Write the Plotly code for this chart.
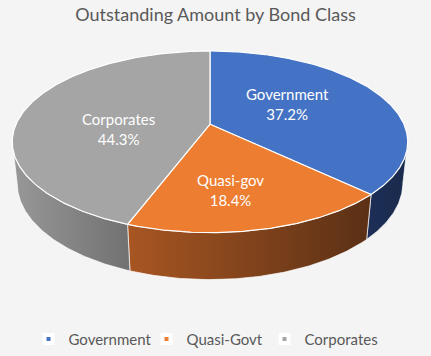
import numpy as np
import plotly.graph_objects as go

# ---- data ----
categories = ["Government", "Quasi-Govt", "Corporates"]
slice_labels = ["Government", "Quasi-gov", "Corporates"]
values = [37.2, 18.4, 44.3]

# ---- style ----
top_colors = ["#4472C4", "#ED7D31", "#A5A5A5"]
wall_colors = [("#1D2F57", "#1A2A4C"), ("#A85622", "#5A3015"), ("#989898", "#717171")]
label_pos = [(287, 105), (230, 193), (118, 131)]  # pixel anchors for data labels
W, H = 431, 356

# ---- projection of a tilted cylinder (perspective) ----
CX, CY = 210.0, 126.0
S = 194.0
ALPHA = np.radians(27.2)
D = 4.6
DEPTH = 0.245
SD = S * D


def proj(theta, r=1.0, z=0.0):
    x = r * np.sin(theta)
    y = r * np.cos(theta)
    v = y * np.sin(ALPHA) + z * np.cos(ALPHA)
    w = y * np.cos(ALPHA) - z * np.sin(ALPHA)
    return CX + SD * x / (D + w), CY - SD * v / (D + w)


total = sum(values)
fr = np.array(values) / total
starts = np.concatenate([[0], np.cumsum(fr)[:-1]]) * 2 * np.pi
ends = np.cumsum(fr) * 2 * np.pi

fig = go.Figure()

# front-facing range of the side wall
th_lo = np.arccos(-0.19)   # ~101 deg
th_hi = 2 * np.pi - th_lo

# walls
for i in range(len(values)):
    a = max(starts[i], th_lo)
    b = min(ends[i], th_hi)
    if b <= a:
        continue
    t = np.linspace(a, b, 120)
    xt, yt = proj(t, 1.0, 0.0)
    xb, yb = proj(t[::-1], 1.0, -DEPTH)
    xs = np.concatenate([xt, xb, xt[:1]])
    ys = np.concatenate([yt, yb, yt[:1]])
    c1, c2 = wall_colors[i]
    fig.add_trace(go.Scatter(
        x=xs, y=ys, mode="lines", fill="toself",
        line=dict(color="rgba(255,255,255,0.85)", width=0.8),
        fillgradient=dict(type="horizontal", colorscale=[[0, c1], [1, c2]]),
        hoverinfo="skip", showlegend=False))

# top faces
for i in range(len(values)):
    t = np.linspace(starts[i], ends[i], 200)
    xr, yr = proj(t, 1.0, 0.0)
    x0, y0 = proj(0.0, 0.0, 0.0)
    xs = np.concatenate([[x0], xr, [x0]])
    ys = np.concatenate([[y0], yr, [y0]])
    fig.add_trace(go.Scatter(
        x=xs, y=ys, mode="lines", fill="toself", fillcolor=top_colors[i],
        line=dict(color="white", width=1.2),
        hoverinfo="skip", showlegend=False))

# data labels
for i in range(len(values)):
    lx, ly = label_pos[i]
    fig.add_annotation(x=lx, y=ly, xref="x", yref="y",
                       text=f"{slice_labels[i]}<br>{values[i]:.1f}%",
                       showarrow=False, align="center",
                       font=dict(family="Lato", size=15, color="white"))

# legend entries
for i, c in enumerate(categories):
    fig.add_trace(go.Scatter(
        x=[None], y=[None], mode="markers", name=c,
        marker=dict(symbol="square", size=8, color=top_colors[i],
                    line=dict(color="white", width=4))))

fig.update_layout(
    width=W, height=H,
    margin=dict(l=0, r=0, t=0, b=0),
    paper_bgcolor="#F4F4F4", plot_bgcolor="#F4F4F4",
    xaxis=dict(range=[0, W], visible=False, fixedrange=True),
    yaxis=dict(range=[H, 0], visible=False, fixedrange=True),
    title=dict(text="Outstanding Amount by Bond Class", x=0.5, xanchor="center",
               y=1 - 15 / H, yanchor="middle",
               font=dict(family="Lato", size=18, color="#595959")),
    legend=dict(orientation="h", x=(W / 2 - 10) / W, xanchor="center",
                y=1 - 344 / H, yanchor="middle",
                font=dict(family="Lato", size=15, color="#595959"),
                bgcolor="rgba(0,0,0,0)", itemwidth=30, traceorder="normal",
                entrywidth=73, entrywidthmode="pixels"),
    showlegend=True,
)

fig.write_html("out.html", config={"displayModeBar": False},
               post_script="document.body.style.margin='0';"
                           "document.body.style.background='#F4F4F4';")
